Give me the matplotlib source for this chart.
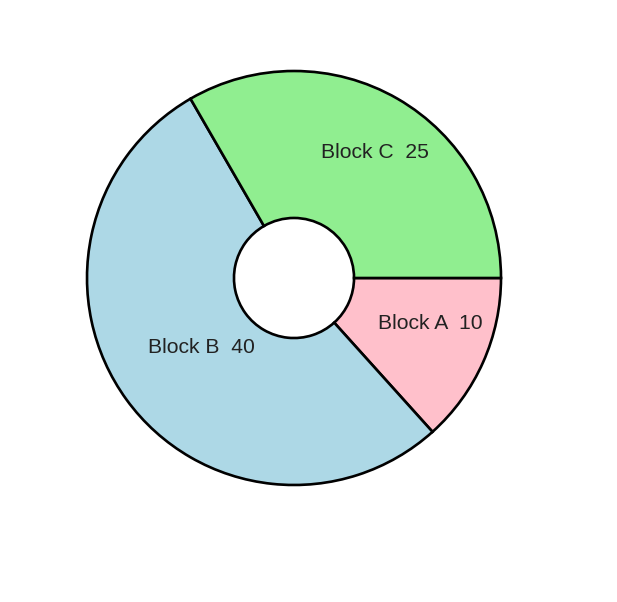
import numpy as np
import matplotlib
matplotlib.use("Agg")
import matplotlib.pyplot as plt

# Data
blocks = ["Block A", "Block B", "Block C"]
values = [10, 40, 25]
colors = ["#FFC0CB", "#ADD8E6", "#90EE90"]

# label placement (fraction of radius, angle tweak in degrees)
label_r = [0.69, 0.555, 0.726]
label_shift = [6.0, 0.5, -2.5]

plt.rcParams['font.family'] = ['Liberation Sans', 'DejaVu Sans']

fig = plt.figure(figsize=(6.17, 6.02), dpi=100)
ax = fig.add_axes([87 / 617, 117 / 602, 414 / 617, 414 / 602])

wedges, _ = ax.pie(values, colors=colors, startangle=0, counterclock=False,
                   radius=1.0,
                   wedgeprops=dict(width=0.71, edgecolor="black", linewidth=1.9))
for w in wedges:
    w.set_clip_on(False)

for w, name, v, r, d in zip(wedges, blocks, values, label_r, label_shift):
    mid = np.deg2rad((w.theta1 + w.theta2) / 2 + d)
    ax.text(r * np.cos(mid), r * np.sin(mid) - 0.008, f"{name}  {v}",
            ha="center", va="center", fontsize=15.2, color="#222222")

ax.set_xlim(-1, 1)
ax.set_ylim(-1, 1)
ax.set_aspect("equal")
ax.axis("off")

fig.savefig("out.png", dpi=100)
